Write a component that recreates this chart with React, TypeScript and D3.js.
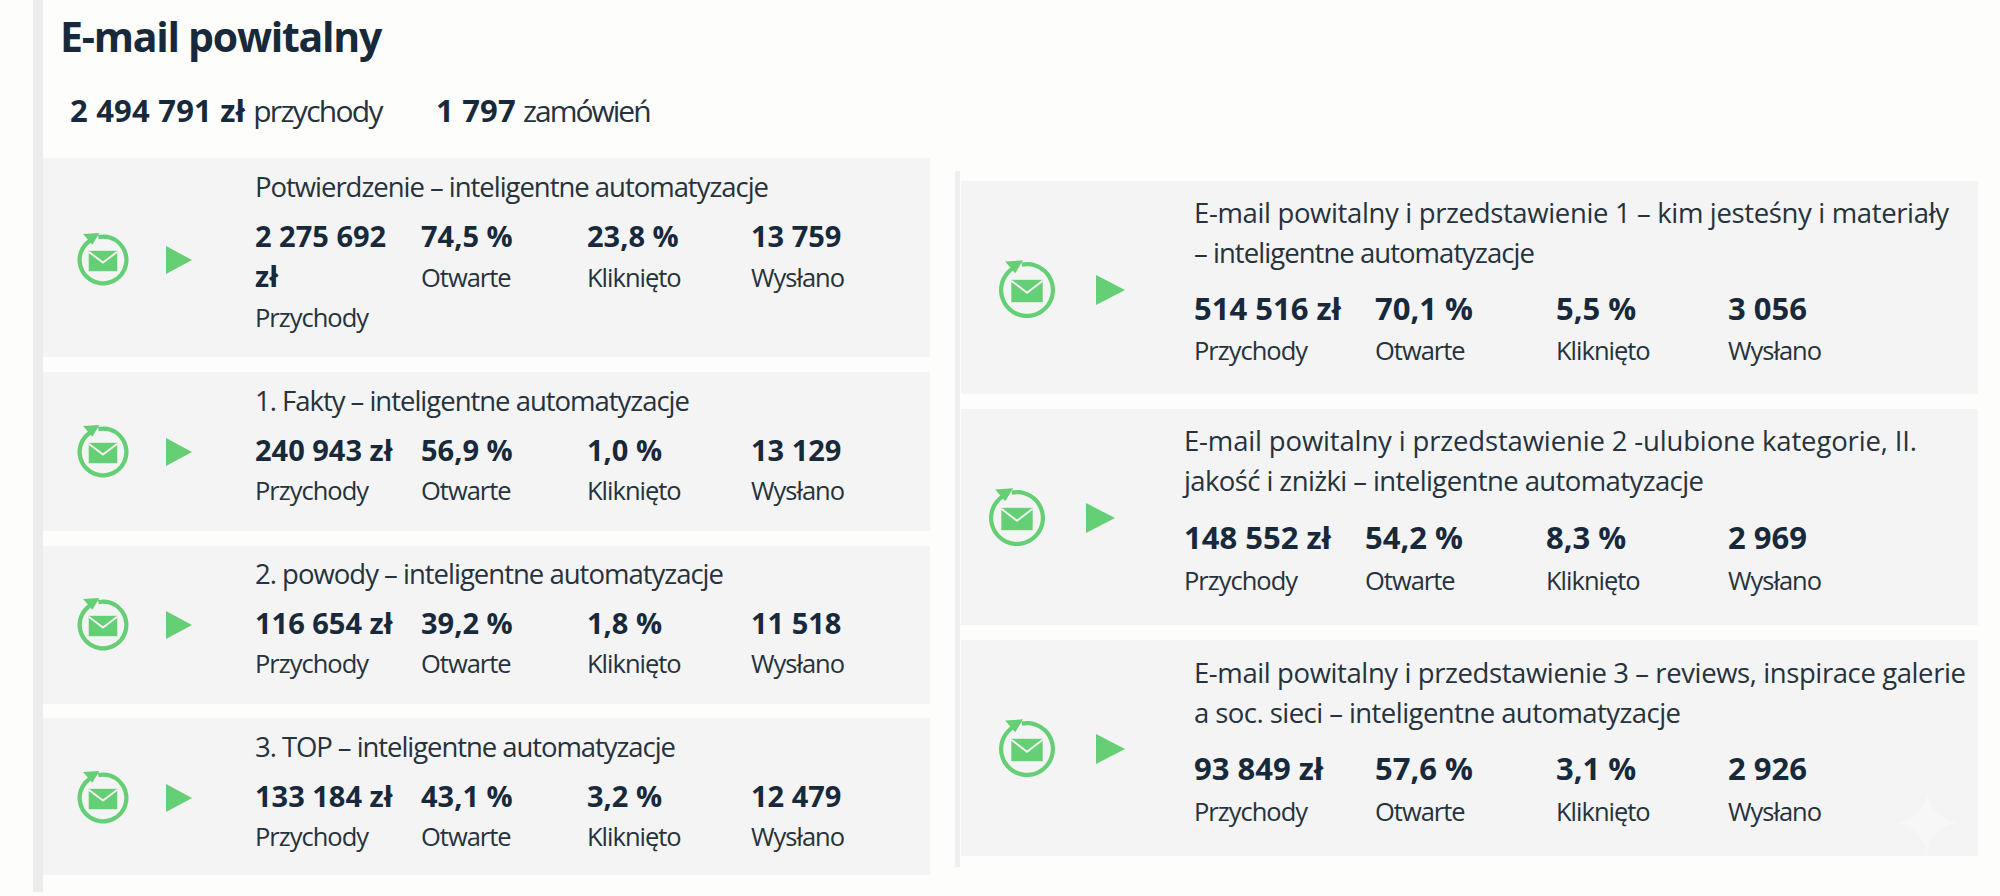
import React from "react";
import * as d3 from "d3";

const chartTitle = "E-mail powitalny";
const totalRevenue = "2 494 791 zł";
const totalRevenueLabel = "przychody";
const totalOrders = "1 797";
const totalOrdersLabel = "zamówień";
const metricLabels = ["Przychody", "Otwarte", "Kliknięto", "Wysłano"];

const leftTitles = [
  ["Potwierdzenie – inteligentne automatyzacje"],
  ["1. Fakty – inteligentne automatyzacje"],
  ["2. powody – inteligentne automatyzacje"],
  ["3. TOP – inteligentne automatyzacje"],
];
const leftRevenue = [["2 275 692", "zł"], ["240 943 zł"], ["116 654 zł"], ["133 184 zł"]];
const leftOpened = ["74,5 %", "56,9 %", "39,2 %", "43,1 %"];
const leftClicked = ["23,8 %", "1,0 %", "1,8 %", "3,2 %"];
const leftSent = ["13 759", "13 129", "11 518", "12 479"];

const rightTitles = [
  ["E-mail powitalny i przedstawienie 1 – kim jesteśny i materiały", "– inteligentne automatyzacje"],
  ["E-mail powitalny i przedstawienie 2 -ulubione kategorie, II.", "jakość i zniżki – inteligentne automatyzacje"],
  ["E-mail powitalny i przedstawienie 3 – reviews, inspirace galerie", "a soc. sieci – inteligentne automatyzacje"],
];
const rightRevenue = [["514 516 zł"], ["148 552 zł"], ["93 849 zł"]];
const rightOpened = ["70,1 %", "54,2 %", "57,6 %"];
const rightClicked = ["5,5 %", "8,3 %", "3,1 %"];
const rightSent = ["3 056", "2 969", "2 926"];

const FONT = "'Open Sans', sans-serif";
const DARK = "#17293a";
const TEXT = "#26323c";
const GREEN = "#64cf74";
const PANEL = "#f4f4f4";

type Card = {
  x0: number; x1: number; y0: number; y1: number; textX: number; cols: number[];
  cx: number; cy: number; r: number; triX: number; triW: number; triH: number;
  titles: string[]; titleW: number[]; revenue: string[]; opened: string; clicked: string; sent: string;
  titleY: number; lineH: number; valueY: number; labelY: number; titleSize: number; valueSize: number; labelSize: number;
};

function Icon({ c }: { c: Card }) {
  const { cx, cy, r } = c;
  const arc = d3.arc()({ innerRadius: r - 4.2, outerRadius: r, startAngle: -0.2, endAngle: Math.PI * 2 - 0.6 } as any) as string;
  const w = r * 1.12, h = r * 0.8;
  const tri = d3.line()([[c.triX, c.cy - c.triH / 2], [c.triX + c.triW, c.cy], [c.triX, c.cy + c.triH / 2]]) + "Z";
  return (
    <g>
      <path d={arc} transform={`translate(${cx},${cy})`} fill={GREEN} />
      <path d={d3.line()([[cx - r * 0.78, cy - r * 1.02], [cx - r * 0.14, cy - r * 1.06], [cx - r * 0.42, cy - r * 0.6]]) + "Z"} fill={GREEN} />
      <rect x={cx - w / 2} y={cy - h / 2 + 1} width={w} height={h} fill={GREEN} />
      <path d={d3.line()([[cx - w / 2, cy - h / 2 + 2], [cx, cy + h * 0.12], [cx + w / 2, cy - h / 2 + 2]]) as string} fill="none" stroke={PANEL} strokeWidth={2} />
      <path d={tri} fill={GREEN} />
    </g>
  );
}

function CardView({ c }: { c: Card }) {
  const extra = c.revenue.length - 1;
  const col = d3.scaleOrdinal<number, number>().domain([0, 1, 2, 3]).range(c.cols);
  const vals = [c.revenue[0], c.opened, c.clicked, c.sent];
  return (
    <g fontFamily={FONT}>
      <rect x={c.x0} y={c.y0} width={c.x1 - c.x0} height={c.y1 - c.y0} fill={PANEL} />
      <Icon c={c} />
      {c.titles.map((t, i) => (
        <text key={i} x={c.textX} y={c.titleY + i * c.lineH} fontSize={c.titleSize} fill={TEXT} textLength={c.titleW[i]} lengthAdjust="spacing">{t}</text>
      ))}
      {vals.map((v, i) => (
        <text key={i} x={col(i)} y={c.valueY} fontSize={c.valueSize} fontWeight={700} fill={DARK}>{v}</text>
      ))}
      {extra > 0 && <text x={col(0)} y={c.valueY + 40} fontSize={c.valueSize} fontWeight={700} fill={DARK}>{c.revenue[1]}</text>}
      {metricLabels.map((l, i) => (
        <text key={l} x={col(i)} y={c.labelY + (i === 0 ? extra * 40 : 0)} fontSize={c.labelSize} letterSpacing={-1} fill={TEXT}>{l}</text>
      ))}
    </g>
  );
}

export default function App() {
  const L = { titleSize: 27.5, valueSize: 29, labelSize: 25.5, lineH: 40, r: 25.5, triW: 26, triH: 28 };
  const leftGeom = [
    { y0: 158, y1: 357, cy: 260, titleY: 197, valueY: 247, labelY: 287, titleW: [514] },
    { y0: 372, y1: 531, cy: 452, titleY: 411, valueY: 461, labelY: 500, titleW: [435] },
    { y0: 546, y1: 704, cy: 625, titleY: 584, valueY: 634, labelY: 673, titleW: [469] },
    { y0: 718, y1: 875, cy: 798, titleY: 757, valueY: 807, labelY: 846, titleW: [421] },
  ];
  const rightGeom = [
    { y0: 181, y1: 394, cy: 290, titleY: 223, valueY: 320, labelY: 360, textX: 1194, cx: 1027, triX: 1096, cols: [1194, 1375, 1556, 1728], titleW: [755, 341] },
    { y0: 409, y1: 625, cy: 518, titleY: 451, valueY: 549, labelY: 590, textX: 1184, cx: 1017, triX: 1086, cols: [1184, 1365, 1546, 1728], titleW: [733, 520] },
    { y0: 640, y1: 856, cy: 749, titleY: 683, valueY: 780, labelY: 821, textX: 1194, cx: 1027, triX: 1096, cols: [1194, 1375, 1556, 1728], titleW: [772, 487] },
  ];
  const leftCards: Card[] = leftGeom.map((g, i) => ({
    ...L, ...g, x0: 43, x1: 930, textX: 255, cols: [255, 421, 587, 751], cx: 103, triX: 166,
    titles: leftTitles[i], revenue: leftRevenue[i], opened: leftOpened[i], clicked: leftClicked[i], sent: leftSent[i],
  }));
  const rightCards: Card[] = rightGeom.map((g, i) => ({
    ...L, valueSize: 31, r: 28, triW: 29, triH: 30, ...g, x0: 961, x1: 1978,
    titles: rightTitles[i], revenue: rightRevenue[i], opened: rightOpened[i], clicked: rightClicked[i], sent: rightSent[i],
  }));
  const sx = 1927, sy = 823, sr = 30, sk = 5;
  const sparkle = `M${sx},${sy - sr}Q${sx + sk},${sy - sk} ${sx + sr},${sy}Q${sx + sk},${sy + sk} ${sx},${sy + sr}Q${sx - sk},${sy + sk} ${sx - sr},${sy}Q${sx - sk},${sy - sk} ${sx},${sy - sr}Z`;
  return (
    <svg width={2000} height={896} viewBox="0 0 2000 896" style={{ position: "absolute", left: 0, top: 0 }}>
      <rect width={2000} height={896} fill="#fdfdfc" />
      <rect x={33} y={0} width={10} height={892} fill="#ececec" />
      <rect x={955} y={171} width={5} height={696} fill="#efefef" />
      <g fontFamily={FONT}>
        <text x={60} y={52} fontSize={41} fontWeight={700} letterSpacing={-1.25} fill={DARK}>{chartTitle}</text>
        <text x={70} y={122} fontSize={31} fill={DARK}>
          <tspan fontWeight={700} letterSpacing={0.2}>{totalRevenue}</tspan>
          <tspan dx={8} fontSize={30} letterSpacing={-1.7} fill={TEXT}>{totalRevenueLabel}</tspan>
        </text>
        <text x={436} y={122} fontSize={31} fill={DARK}>
          <tspan fontWeight={700} letterSpacing={0.2}>{totalOrders}</tspan>
          <tspan dx={7} fontSize={30} letterSpacing={-2} fill={TEXT}>{totalOrdersLabel}</tspan>
        </text>
      </g>
      {leftCards.map((c, i) => <CardView key={i} c={c} />)}
      {rightCards.map((c, i) => <CardView key={i} c={c} />)}
      <path d={sparkle} fill="#f7f7f7" />
    </svg>
  );
}
